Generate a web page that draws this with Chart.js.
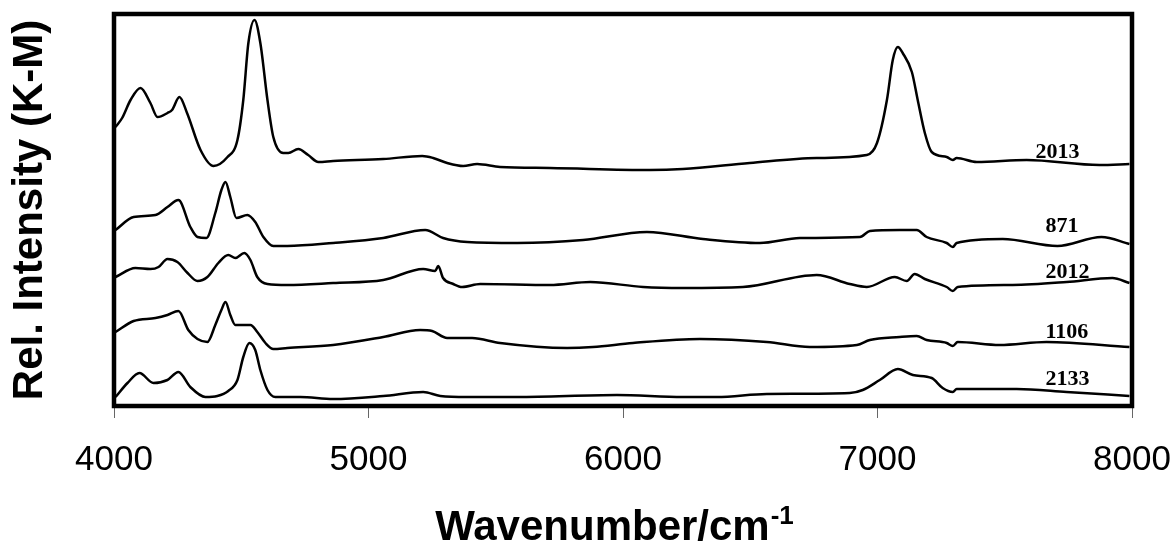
<!DOCTYPE html>
<html lang="en">
<head>
    <meta charset="UTF-8">
    <title>Rel. Intensity (K-M)</title>
    <script src="https://cdn.jsdelivr.net/npm/chart.js@4"></script>
    <style>
        body { margin: 0; background: #fff; }
        #wrap { width: 1176px; height: 551px; }
    </style>
</head>
<body>
    <div id="wrap"><canvas id="spectraChart"></canvas></div>

    <script>
        // Wavenumbers (cm-1) and relative K-M intensities (offset)
        const wn2013 = [4006, 4032, 4065, 4104, 4143, 4171, 4210, 4228, 4257, 4287, 4340, 4391, 4446, 4485, 4508, 4528, 4552, 4575, 4603, 4626, 4665, 4685, 4724, 4763, 4803, 4861, 5058, 5211, 5254, 5309, 5372, 5427, 5517, 5713, 6106, 6235, 6498, 6761, 6958, 6998, 7037, 7060, 7080, 7099, 7135, 7158, 7186, 7213, 7272, 7296, 7311, 7390, 7586, 7872, 7990];
        const int2013 = [279, 288, 306, 318, 303, 289, 293, 296, 309, 293, 256, 240, 249, 266, 306, 363, 386, 363, 306, 269, 253, 253, 257, 251, 244, 245, 247, 250, 248, 243, 240, 242, 239, 238, 236, 237, 243, 248, 251, 263, 306, 346, 359, 353, 334, 306, 273, 254, 249, 246, 248, 244, 246, 241, 242];

        const wn871 = [4006, 4077, 4163, 4210, 4253, 4300, 4328, 4363, 4398, 4422, 4438, 4457, 4481, 4524, 4555, 4587, 4626, 4681, 4861, 5058, 5223, 5293, 5388, 5584, 5843, 6094, 6314, 6538, 6695, 6931, 6970, 7087, 7154, 7193, 7272, 7296, 7311, 7492, 7707, 7880, 7990];
        const int871 = [176, 189, 191, 199, 206, 179, 169, 168, 193, 216, 224, 209, 188, 191, 184, 169, 160, 160, 163, 168, 176, 168, 164, 163, 166, 174, 167, 163, 168, 169, 175, 176, 176, 169, 163, 159, 163, 167, 160, 169, 162];

        const wn2012 = [4006, 4084, 4143, 4175, 4210, 4249, 4289, 4328, 4367, 4410, 4449, 4477, 4512, 4536, 4563, 4603, 4681, 4861, 5058, 5215, 5262, 5274, 5293, 5333, 5368, 5439, 5713, 5871, 6079, 6235, 6471, 6761, 6891, 6958, 7068, 7115, 7146, 7186, 7272, 7296, 7315, 7531, 7743, 7923, 7990];
        const int2012 = [129, 138, 137, 139, 147, 144, 133, 125, 129, 143, 151, 148, 153, 146, 129, 122, 121, 123, 126, 137, 135, 140, 128, 122, 119, 122, 121, 124, 119, 118, 119, 131, 122, 119, 129, 125, 132, 127, 119, 115, 119, 121, 124, 128, 123];

        const wn1106 = [4006, 4077, 4163, 4210, 4253, 4292, 4328, 4367, 4398, 4422, 4438, 4457, 4477, 4536, 4563, 4595, 4626, 4681, 4861, 5058, 5203, 5250, 5309, 5407, 5517, 5780, 5882, 6039, 6302, 6565, 6734, 6919, 6970, 7087, 7154, 7193, 7272, 7296, 7315, 7480, 7664, 7990];
        const int1106 = [74, 85, 88, 91, 95, 76, 67, 64, 81, 96, 104, 91, 81, 81, 74, 63, 57, 58, 61, 69, 76, 75, 68, 68, 63, 58, 59, 63, 67, 64, 59, 61, 66, 69, 70, 66, 63, 60, 64, 61, 64, 59];

        const wn2133 = [4006, 4053, 4100, 4155, 4210, 4253, 4300, 4359, 4406, 4449, 4485, 4508, 4532, 4555, 4575, 4603, 4634, 4732, 4861, 5058, 5215, 5282, 5388, 5584, 5976, 6235, 6369, 6565, 6891, 6942, 7009, 7080, 7139, 7213, 7256, 7296, 7311, 7547, 7743, 7990];
        const int2133 = [9, 23, 33, 23, 26, 34, 19, 9, 10, 15, 26, 49, 63, 56, 36, 16, 9, 9, 7, 10, 14, 10, 9, 9, 11, 9, 9, 12, 13, 16, 26, 37, 31, 28, 18, 14, 17, 17, 14, 10];

        // sample labels at the right end of each trace
        const sampleNames = ['2013', '871', '2012', '1106', '2133'];
        const labelWn = [7621, 7660, 7660, 7660, 7660];
        const labelInt = [248, 174, 128, 68, 21];

        const xTicks = [4000, 5000, 6000, 7000, 8000];

        function toPoints(xs, ys) {
            return xs.map((x, i) => ({ x: x, y: ys[i] }));
        }

        const traces = [
            [wn2013, int2013], [wn871, int871], [wn2012, int2012], [wn1106, int1106], [wn2133, int2133]
        ];

        // frame, sample labels and the x title with its superscript
        const decorations = {
            id: 'decorations',
            afterDatasetsDraw(chart) {
                const { ctx, chartArea: a, scales: { x, y } } = chart;
                ctx.save();
                ctx.strokeStyle = '#000';
                ctx.lineWidth = 4.5;
                ctx.strokeRect(a.left, a.top, a.right - a.left, a.bottom - a.top);

                ctx.fillStyle = '#000';
                ctx.font = 'bold 22px "Liberation Serif", "Times New Roman", serif';
                ctx.textAlign = 'left';
                ctx.textBaseline = 'alphabetic';
                sampleNames.forEach((name, i) => {
                    ctx.fillText(name, x.getPixelForValue(labelWn[i]), y.getPixelForValue(labelInt[i]));
                });

                const main = 'Wavenumber/cm';
                const sup = '-1';
                ctx.font = 'bold 42px "Liberation Sans", Arial, sans-serif';
                const wMain = ctx.measureText(main).width;
                ctx.font = 'bold 26px "Liberation Sans", Arial, sans-serif';
                const wSup = ctx.measureText(sup).width;
                const start = 614 - (wMain + wSup) / 2;
                ctx.font = 'bold 42px "Liberation Sans", Arial, sans-serif';
                ctx.fillText(main, start, 540);
                ctx.font = 'bold 26px "Liberation Sans", Arial, sans-serif';
                ctx.fillText(sup, start + wMain + 1, 524);
                ctx.restore();
            }
        };

        new Chart(document.getElementById('spectraChart'), {
            type: 'line',
            data: {
                datasets: traces.map((t, i) => ({
                    label: sampleNames[i],
                    data: toPoints(t[0], t[1]),
                    borderColor: '#000',
                    borderWidth: 2.5,
                    pointRadius: 0,
                    fill: false,
                    cubicInterpolationMode: 'monotone'
                }))
            },
            options: {
                responsive: true,
                maintainAspectRatio: false,
                animation: false,
                layout: { padding: { top: 14, right: 44, bottom: 0, left: 0 } },
                plugins: {
                    legend: { display: false },
                    tooltip: { enabled: false }
                },
                scales: {
                    x: {
                        type: 'linear',
                        min: 4000,
                        max: 8000,
                        afterFit: s => { s.height = 145; s.paddingLeft = 0; s.paddingRight = 0; },
                        afterBuildTicks: s => { s.ticks = xTicks.map(v => ({ value: v })); },
                        ticks: {
                            color: '#000',
                            padding: 21,
                            maxRotation: 0,
                            callback: v => String(v),
                            font: { family: '"Liberation Sans", Arial, sans-serif', size: 35 }
                        },
                        grid: {
                            drawOnChartArea: false,
                            drawTicks: true,
                            tickLength: 12,
                            color: '#666',
                            lineWidth: 1
                        },
                        border: { display: false }
                    },
                    y: {
                        min: 0,
                        max: 392,
                        afterFit: s => { s.width = 114; },
                        ticks: { display: false },
                        grid: { display: false },
                        border: { display: false },
                        title: {
                            display: true,
                            text: 'Rel. Intensity (K-M)',
                            color: '#000',
                            padding: { top: 5, bottom: 0 },
                            font: { family: '"Liberation Sans", Arial, sans-serif', size: 42, weight: 'bold' }
                        }
                    }
                }
            },
            plugins: [decorations]
        });
    </script>
</body>
</html>
